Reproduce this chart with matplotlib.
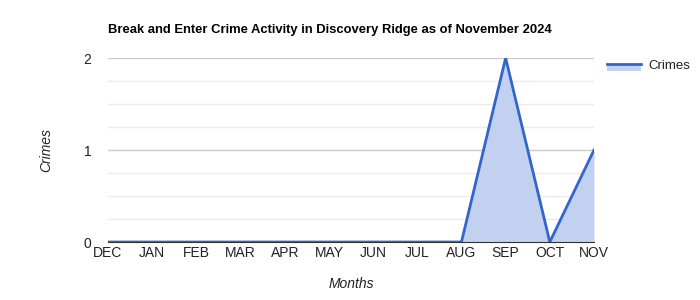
import matplotlib
matplotlib.use("Agg")
import matplotlib.pyplot as plt
from matplotlib.ticker import MultipleLocator
from matplotlib.patches import Patch, Rectangle
from matplotlib.lines import Line2D

months = ["DEC", "JAN", "FEB", "MAR", "APR", "MAY", "JUN", "JUL", "AUG", "SEP", "OCT", "NOV"]
crimes = [0, 0, 0, 0, 0, 0, 0, 0, 0, 2, 0, 1]
title = "Break and Enter Crime Activity in Discovery Ridge as of November 2024"

plt.rcParams['font.family'] = ['Liberation Sans', 'DejaVu Sans']

fig = plt.figure(figsize=(7, 3), dpi=100)
ax = fig.add_axes([108/700, 1-242/300, (594-108)/700, (242-58)/300])

x = list(range(len(months)))
line_color = "#3366cc"
fill_color = "#c2d1ef"
ax.fill_between(x, crimes, 0, color=fill_color, linewidth=0, zorder=2)
ax.plot(x, crimes, color=line_color, linewidth=2, zorder=3)

ax.set_xlim(0, len(months) - 1)
ax.set_ylim(0, 2)
ax.set_xticks(x)
ax.set_xticklabels(months)
ax.yaxis.set_major_locator(MultipleLocator(1))
ax.yaxis.set_minor_locator(MultipleLocator(0.25))
ax.grid(which="major", axis="y", color="#cccccc", linewidth=1, zorder=1)
ax.grid(which="minor", axis="y", color="#ebebeb", linewidth=1, zorder=1)
ax.grid(False, axis="x")
for s in ["top", "right", "left"]:
    ax.spines[s].set_visible(False)
ax.spines["bottom"].set_color("#333333")
ax.spines["bottom"].set_zorder(4)
ax.tick_params(axis="both", which="both", length=0, labelsize=10, colors="#222222")
ax.tick_params(axis="x", pad=3)
ax.tick_params(axis="y", pad=12)
ax.set_axisbelow(True)

ax.set_xlabel("Months", fontsize=10, style="italic", color="#222222", labelpad=12)
ax.set_ylabel("Crimes", fontsize=10, style="italic", color="#222222", labelpad=22)

fig.text(108/700, 1-30/300, title, fontsize=9.35, fontweight="bold", color="#000000", va="center", ha="left")


class AreaHandler:
    def legend_artist(self, legend, orig_handle, fontsize, handlebox):
        x0, y0 = -handlebox.xdescent, -handlebox.ydescent
        w, h = handlebox.width, handlebox.height
        top = y0 + h * 0.62
        bot = top - 5.5
        rect = Rectangle((x0, bot), w, top - bot, facecolor=fill_color,
                         edgecolor="none", transform=handlebox.get_transform())
        ln = Line2D([x0, x0 + w], [top, top], color=line_color, linewidth=2,
                    transform=handlebox.get_transform())
        handlebox.add_artist(rect)
        handlebox.add_artist(ln)
        return rect


handle = Patch(facecolor=fill_color)
leg = fig.legend([handle], ["Crimes"], loc="upper left", bbox_to_anchor=(607/700, 1-60/300),
                 frameon=False, fontsize=9.5, handlelength=2.6, handletextpad=0.5, borderpad=0,
                 borderaxespad=0, handler_map={Patch: AreaHandler()})
for t in leg.get_texts():
    t.set_color("#222222")

fig.savefig("out.png", dpi=100)
